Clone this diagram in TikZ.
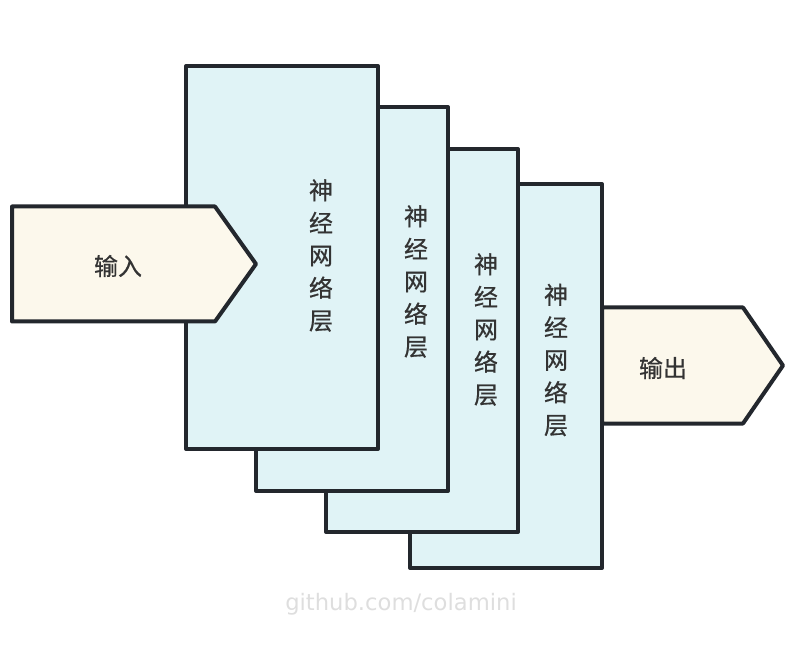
\documentclass[tikz,border=0pt]{standalone}
\usepackage{fontspec}
\setmainfont{Noto Sans CJK SC}
\newfontfamily\cjk{Noto Sans CJK SC}[FakeBold=0.6]
\newfontfamily\wmfont{DejaVu Sans}
\usepackage{xcolor}
\usepackage{tikz}
\usetikzlibrary{positioning, calc}

\definecolor{edgegray}{HTML}{23272D}
\definecolor{layerblue}{HTML}{E0F3F6}
\definecolor{flowcream}{HTML}{FCF8EC}
\definecolor{labelgray}{HTML}{333333}
\definecolor{markgray}{HTML}{DEDEDE}

\tikzset{
  layerbox/.style={line width=3pt, draw=edgegray, fill=layerblue, line join=round},
  flowshape/.style={line width=3pt, draw=edgegray, fill=flowcream, line join=round},
  layerlabel/.style={align=center, text=labelgray, inner sep=0pt, font={\cjk\fontsize{18}{24.4}\selectfont}},
  flowlabel/.style={text=labelgray, inner sep=0pt, font={\cjk\fontsize{18}{22}\selectfont}}
}

\begin{document}
\begin{tikzpicture}[x=0.75pt, y=-0.75pt]
  \useasboundingbox (0, 0) rectangle (800, 670);

  % stacked layers, back to front
  \draw [layerbox] (410, 184) rectangle (602, 568);
  \draw [layerbox] (326, 149) rectangle (518, 532);
  \draw [layerbox] (256, 107) rectangle (448, 491);
  \draw [layerbox] (186, 66) rectangle (378, 449);

  \node [layerlabel] (layer4) at (556, 360) {神\\经\\网\\络\\层};
  \node [layerlabel] (layer3) at (486, 329.5) {神\\经\\网\\络\\层};
  \node [layerlabel] (layer2) at (416, 281.5) {神\\经\\网\\络\\层};
  \node [layerlabel] (layer1) at (321, 255.5) {神\\经\\网\\络\\层};

  % input and output
  \draw [flowshape] (12, 206.5) -- (215, 206.5) -- (256, 264) -- (215, 321.5) -- (12, 321.5) -- cycle;
  \draw [flowshape] (602, 307.5) -- (743, 307.5) -- (783, 365.5) -- (743, 423.5) -- (602, 423.5) -- cycle;

  \node [flowlabel] (input) at (118, 266) {输入};
  \node [flowlabel] (output) at (663, 368) {输出};

  \node [text=markgray, inner sep=0pt, font={\wmfont\fontsize{17}{20}\selectfont}] (mark) at (401, 604) {github.com/colamini};
\end{tikzpicture}
\end{document}
